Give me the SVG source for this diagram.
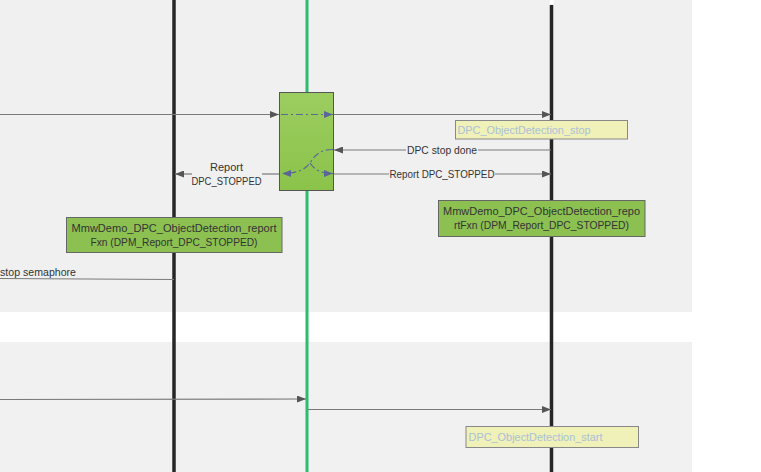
<svg xmlns="http://www.w3.org/2000/svg" width="761" height="472" viewBox="0 0 761 472">
<defs>
  <marker id="ah" markerWidth="9" markerHeight="7" refX="9" refY="3.5" orient="auto" markerUnits="userSpaceOnUse">
    <path d="M0,0 L9,3.5 L0,7 Z" fill="#555"/>
  </marker>
  <marker id="ahb" markerWidth="9" markerHeight="7" refX="9" refY="3.5" orient="auto" markerUnits="userSpaceOnUse">
    <path d="M0,0 L9,3.5 L0,7 Z" fill="#5a6796"/>
  </marker>
  <linearGradient id="gbox" x1="0" y1="0" x2="0" y2="1">
    <stop offset="0" stop-color="#9ccd60"/>
    <stop offset="1" stop-color="#8bc34a"/>
  </linearGradient>
</defs>
<style>
  .msg{stroke:#7a7a7a;stroke-width:1.2;fill:none}
  .dd{stroke:#5a6796;stroke-width:1.2;fill:none;stroke-dasharray:7 3 2 3}
  .life{stroke:#262626;stroke-width:3.5}
  .lifeg{stroke:#2dbb6c;stroke-width:3}
  .t{font-family:"Liberation Sans",Arial,sans-serif;font-size:11px;fill:#333}
  .note{fill:#8cc152;stroke:#666;stroke-width:1}
  .ynote{fill:#f0f0b9;stroke:#888;stroke-width:1}
  .yt{font-family:"Liberation Sans",Arial,sans-serif;font-size:11px;fill:#a9c1d6}
</style>
<rect x="0" y="0" width="761" height="472" fill="#ffffff"/>
<rect x="0" y="0" width="692" height="312" fill="#f0f0f0"/>
<rect x="0" y="342" width="692" height="130" fill="#f1f1f1"/>

<g id="lifelines">
  <line class="life" x1="174" y1="0" x2="174" y2="472"/>
  <line class="lifeg" x1="307" y1="0" x2="307" y2="472"/>
  <line class="life" x1="551.5" y1="5" x2="551.5" y2="472"/>
  <rect x="550" y="0" width="4" height="4" fill="#ffffff"/>
</g>

<g id="dpc-box">
  <rect x="279.5" y="92.5" width="54" height="98" fill="url(#gbox)" stroke="#555" stroke-width="1"/>
</g>

<g id="connectors">
  <line class="msg" x1="0" y1="114.5" x2="279" y2="114.5" marker-end="url(#ah)"/>
  <line class="dd" x1="281" y1="114.5" x2="333" y2="114.5" marker-end="url(#ahb)"/>
  <line class="msg" x1="334" y1="114.5" x2="551" y2="114.5" marker-end="url(#ah)"/>

  <line class="msg" x1="551" y1="150" x2="478" y2="150"/>
  <line class="msg" x1="406" y1="150" x2="334" y2="150" marker-end="url(#ah)"/>

  <path class="dd" d="M333,149.5 C320,149.5 315,155 310,163 C305,170 296,173.5 282,173.5" marker-end="url(#ahb)"/>
  <path class="dd" d="M310,163 C315,170 321,173.5 333,173.5" marker-end="url(#ahb)"/>

  <line class="msg" x1="279" y1="174" x2="262" y2="174"/>
  <line class="msg" x1="192" y1="174" x2="175" y2="174" marker-end="url(#ah)"/>
  <text class="t" x="226.5" y="170.5" text-anchor="middle" textLength="33" lengthAdjust="spacingAndGlyphs">Report</text>
  <text class="t" x="226.5" y="185" text-anchor="middle" textLength="70" lengthAdjust="spacingAndGlyphs">DPC_STOPPED</text>

  <line class="msg" x1="334" y1="174" x2="389" y2="174"/>
  <line class="msg" x1="495" y1="174" x2="551" y2="174" marker-end="url(#ah)"/>
  <text class="t" x="389.5" y="177.8" textLength="105" lengthAdjust="spacingAndGlyphs">Report DPC_STOPPED</text>
  <text class="t" x="407" y="153.8" textLength="70" lengthAdjust="spacingAndGlyphs">DPC stop done</text>

  <line class="msg" x1="0" y1="278.5" x2="174" y2="279.5"/>
  <text class="t" x="0" y="275.5" textLength="76" lengthAdjust="spacingAndGlyphs">stop semaphore</text>

  <line class="msg" x1="0" y1="399.5" x2="306" y2="399" marker-end="url(#ah)"/>
  <line class="msg" x1="308" y1="409.5" x2="551" y2="409.5" marker-end="url(#ah)"/>
</g>

<g id="note-left">
  <rect class="note" x="66.5" y="217.5" width="215.5" height="35"/>
  <text class="t" x="174" y="231.5" text-anchor="middle" textLength="205" lengthAdjust="spacingAndGlyphs">MmwDemo_DPC_ObjectDetection_report</text>
  <text class="t" x="174" y="246" text-anchor="middle" textLength="167" lengthAdjust="spacingAndGlyphs">Fxn (DPM_Report_DPC_STOPPED)</text>
</g>

<g id="note-right">
  <rect class="note" x="438.5" y="200.5" width="206.5" height="36"/>
  <text class="t" x="541.5" y="215" text-anchor="middle" textLength="197" lengthAdjust="spacingAndGlyphs">MmwDemo_DPC_ObjectDetection_repo</text>
  <text class="t" x="541.5" y="229" text-anchor="middle" textLength="175" lengthAdjust="spacingAndGlyphs">rtFxn (DPM_Report_DPC_STOPPED)</text>
</g>

<g id="note-stop">
  <rect class="ynote" x="455.5" y="120.5" width="172" height="18.5"/>
  <text class="yt" x="457.5" y="133.5" textLength="133" lengthAdjust="spacingAndGlyphs">DPC_ObjectDetection_stop</text>
</g>

<g id="note-start">
  <rect class="ynote" x="466" y="426.5" width="172.5" height="21"/>
  <text class="yt" x="468.5" y="440.5" textLength="134" lengthAdjust="spacingAndGlyphs">DPC_ObjectDetection_start</text>
</g>
</svg>
